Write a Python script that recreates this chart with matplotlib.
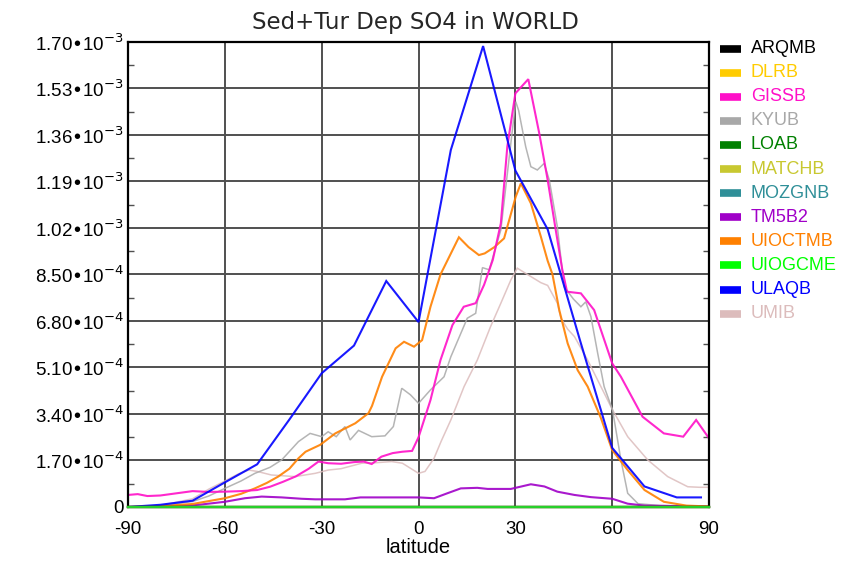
import matplotlib
matplotlib.use("Agg")
import matplotlib.pyplot as plt
from matplotlib.ticker import MultipleLocator, FuncFormatter
from matplotlib.lines import Line2D

# Zonal mean sedimentation + turbulent deposition of SO4 (values in units of 1e-4)
models = ["ARQMB", "DLRB", "GISSB", "KYUB", "LOAB", "MATCHB", "MOZGNB",
          "TM5B2", "UIOCTMB", "UIOGCME", "ULAQB", "UMIB"]
colors = ["#000000", "#ffcc00", "#ff10c8", "#a8a8a8", "#008000", "#c8c830",
          "#2f8f98", "#a000c8", "#ff8000", "#00ff00", "#0000ff", "#dcbcbc"]

zero_lat = [-90, 90]
zero_val = [0.0, 0.0]

gissb_lat = [-90, -87, -84, -80, -75, -70, -65, -60, -55, -50, -46, -42, -38, -34,
             -31, -28, -24, -20, -17, -14.5, -11.5, -8, -5, -2, 0, 3.7, 6.8, 10.5,
             14, 17.7, 20.3, 23, 25.5, 27.5, 30, 34, 37.4, 40, 42.5, 44.5, 46,
             50.3, 54.4, 60, 62.7, 69.4, 76, 82, 86, 90]
gissb_val = [0.44, 0.47, 0.40, 0.42, 0.50, 0.58, 0.55, 0.56, 0.58, 0.62, 0.74, 0.92,
             1.12, 1.40, 1.66, 1.60, 1.58, 1.64, 1.66, 1.57, 1.84, 1.97, 2.02, 2.05,
             2.55, 3.91, 5.37, 6.65, 7.32, 7.45, 8.12, 9.03, 10.37, 13.17, 15.12,
             15.64, 13.66, 11.96, 10.13, 8.70, 7.87, 7.81, 7.20, 5.25, 4.76, 3.30,
             2.69, 2.57, 3.18, 2.51]

kyub_lat = [-90, -80, -70, -65, -60, -55, -50.7, -46, -42.4, -37.2, -33.6, -30, -28,
            -25.5, -22.8, -21.2, -18.6, -14.5, -10.4, -7.8, -5.2, -2.5, 0, 3.7, 7.9,
            10, 15.1, 17.7, 19.8, 21.9, 25.5, 28.6, 30.1, 31, 33.2, 34.8, 36.8, 38.9,
            40.5, 43, 45.1, 48, 50.3, 51.8, 53.4, 55.5, 57.5, 60.1, 62.7, 64.8, 68,
            75, 90]
kyub_val = [0.0, 0.05, 0.20, 0.40, 0.68, 0.95, 1.23, 1.45, 1.72, 2.39, 2.69, 2.57,
            2.75, 2.57, 2.94, 2.45, 2.80, 2.57, 2.60, 2.94, 4.34, 4.10, 3.79, 4.28,
            4.76, 5.49, 6.90, 7.08, 8.75, 8.67, 10.13, 13.30, 14.82, 14.50, 13.17,
            12.44, 12.32, 12.56, 11.96, 10.25, 8.05, 7.60, 7.32, 7.50, 6.96, 5.62,
            4.40, 3.55, 1.72, 0.50, 0.12, 0.05, 0.02]

tm5_lat = [-90, -80, -70, -66.6, -60, -53.8, -48.6, -42.4, -36.2, -32, -22.8, -18,
           0, 4.8, 8.9, 13.1, 18.2, 21.4, 28.6, 34.8, 39, 43, 48.3, 53.4, 60, 64.8,
           70, 90]
tm5_val = [0.0, 0.02, 0.06, 0.10, 0.19, 0.32, 0.38, 0.35, 0.30, 0.28, 0.28, 0.35,
           0.35, 0.32, 0.50, 0.68, 0.70, 0.66, 0.66, 0.83, 0.75, 0.56, 0.44, 0.36,
           0.30, 0.12, 0.05, 0.02]

uioctm_lat = [-90, -80, -70, -60, -55, -50.7, -47, -43.5, -40, -37.2, -35, -30.5,
              -25.8, -19.6, -15.5, -14.4, -11.3, -7.1, -4.5, -1.4, 1.1, 3.7, 6.8,
              12.5, 15.5, 18.7, 20.5, 23.5, 26.5, 30.1, 31.7, 34.8, 37.9, 40, 41.5,
              43.6, 46.2, 49.3, 52.4, 56.5, 60, 64.8, 70, 76, 83, 90]
uioctm_val = [0.0, 0.03, 0.11, 0.32, 0.48, 0.68, 0.88, 1.11, 1.40, 1.78, 2.02, 2.27,
              2.69, 3.06, 3.43, 3.70, 4.76, 5.80, 6.04, 5.86, 6.10, 7.32, 8.50, 9.86,
              9.50, 9.21, 9.27, 9.50, 9.82, 11.34, 11.83, 11.10, 9.88, 9.00, 8.50,
              7.20, 5.98, 5.00, 4.40, 3.25, 2.08, 1.35, 0.62, 0.19, 0.05, 0.02]

ulaq_lat = [-90, -80, -70, -60, -50, -40, -30, -20, -10, 0, 10, 20, 30, 40, 50, 60,
            70, 80, 87.5]
ulaq_val = [0.0, 0.08, 0.23, 0.90, 1.56, 3.20, 4.89, 5.90, 8.26, 6.76, 13.05, 16.85,
            12.30, 10.15, 6.10, 2.16, 0.75, 0.35, 0.35]

umib_lat = [-90, -80, -70, -65, -60, -56, -52.6, -50, -45.6, -38.3, -32, -28, -24,
            -17.6, -13, -8.3, -5, 0, 2, 4.8, 7, 10, 14.1, 18.2, 22.3, 25.5, 28.6,
            30.6, 33.2, 37.9, 40, 43, 44.1, 46.2, 48.3, 52.4, 56.5, 60.1, 64.8, 71,
            77.2, 83.4, 87, 90]
umib_val = [0.0, 0.05, 0.30, 0.65, 0.95, 1.20, 1.35, 1.30, 1.17, 1.11, 1.23, 1.35,
            1.40, 1.60, 1.62, 1.66, 1.60, 1.23, 1.30, 1.78, 2.40, 3.18, 4.40, 5.37,
            6.59, 7.45, 8.30, 8.73, 8.54, 8.20, 8.10, 7.45, 6.90, 6.50, 6.23, 5.37,
            4.40, 3.55, 2.57, 1.72, 1.11, 0.74, 0.72, 0.72]

series = {
    "ARQMB": (zero_lat, zero_val),
    "DLRB": (zero_lat, zero_val),
    "GISSB": (gissb_lat, gissb_val),
    "KYUB": (kyub_lat, kyub_val),
    "LOAB": (zero_lat, zero_val),
    "MATCHB": (zero_lat, zero_val),
    "MOZGNB": (zero_lat, zero_val),
    "TM5B2": (tm5_lat, tm5_val),
    "UIOCTMB": (uioctm_lat, uioctm_val),
    "UIOGCME": (zero_lat, zero_val),
    "ULAQB": (ulaq_lat, ulaq_val),
    "UMIB": (umib_lat, umib_val),
}
line_widths = {"KYUB": 1.1, "UMIB": 1.1}
draw_order = ["ARQMB", "DLRB", "LOAB", "MATCHB", "MOZGNB", "UIOGCME", "UMIB",
              "KYUB", "TM5B2", "UIOCTMB", "GISSB", "ULAQB"]
zero_models = ["ARQMB", "DLRB", "LOAB", "MATCHB", "MOZGNB", "UIOGCME"]

x_ticks = [-90, -60, -30, 0, 30, 60, 90]
y_step = 1.7e-4
scale = 1e-4

plt.rcParams["font.family"] = ["Liberation Sans", "DejaVu Sans"]
plt.rcParams["axes.unicode_minus"] = False

fig = plt.figure(figsize=(8.44, 5.64), dpi=100)
ax = fig.add_axes([0.1517, 0.1011, 0.6884, 0.8245])

for name in draw_order:
    lat, val = series[name]
    c = colors[models.index(name)]
    if name in zero_models:
        # flat series sit on the axis line; the last one drawn stays visible
        ax.plot(lat, [v * scale for v in val], color=c, lw=1.6, alpha=0.55,
                zorder=5, clip_on=False)
        continue
    ax.plot(lat, [v * scale for v in val], color=c,
            lw=line_widths.get(name, 1.5), alpha=0.85 if name in line_widths else 0.9,
            solid_joinstyle="miter", zorder=3)

ax.set_xlim(-90, 90)
ax.set_ylim(0, 10 * y_step)
ax.set_xticks(x_ticks)
ax.yaxis.set_major_locator(MultipleLocator(y_step))
ax.yaxis.set_minor_locator(MultipleLocator(y_step / 2))


def sci_label(v, pos):
    if abs(v) < 1e-12:
        return "0"
    exp = int(f"{v:.2e}".split("e")[1])
    mant = v / 10 ** exp
    return f"{mant:.2f}\u202210$^{{{exp}}}$"


ax.yaxis.set_major_formatter(FuncFormatter(sci_label))
ax.grid(True, which="major", color="#505050", lw=1.4, zorder=1)
ax.tick_params(axis="y", which="both", direction="in", left=True, right=True,
               labelsize=13.5, length=0, pad=3)
ax.tick_params(axis="y", which="minor", length=4, width=1, color="#505050")
ax.tick_params(axis="x", direction="in", length=0, labelsize=13.5, pad=10)
for sp in ax.spines.values():
    sp.set_linewidth(1.6)
    sp.set_zorder(4)

ax.set_xlabel("latitude", fontsize=14.5, labelpad=0)
fig.text(415.5 / 844, 1 - 22 / 564, "Sed+Tur Dep SO4 in WORLD", ha="center",
         va="center", fontsize=16.5, family="DejaVu Sans", color="#262626")

# Legend: short thick bars with model names in matching colours
y0 = 1 - 48.5 / 564
dy = 24.1 / 564
for i, (name, c) in enumerate(zip(models, colors)):
    y = y0 - i * dy
    fig.add_artist(Line2D([720 / 844, 741 / 844], [y, y], color=c, lw=5.5,
                          solid_capstyle="butt", transform=fig.transFigure))
    fig.text(751 / 844, y, name, color=c, fontsize=13, va="center", ha="left")

fig.savefig("out.png", dpi=100)
